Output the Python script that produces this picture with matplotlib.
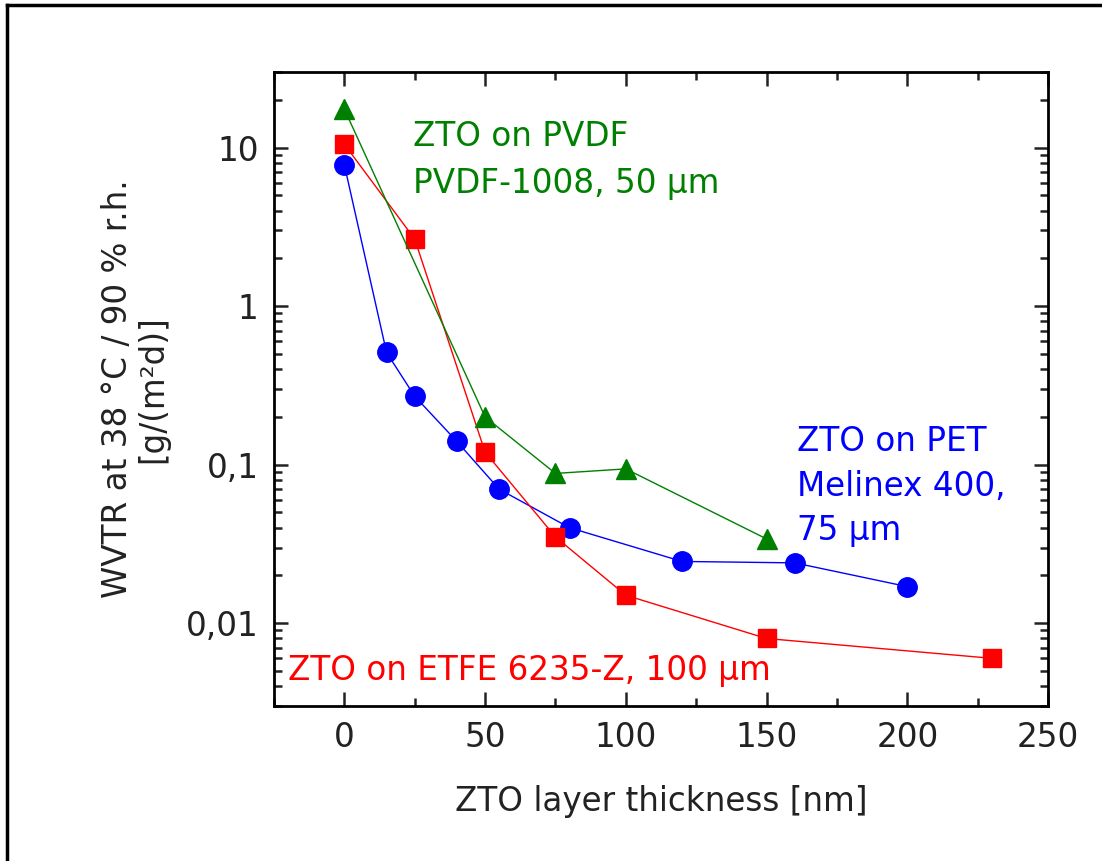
import numpy as np
import matplotlib as mpl
mpl.use('Agg')
import matplotlib.pyplot as plt
from matplotlib.lines import Line2D
from matplotlib.ticker import FixedLocator, LogLocator, NullFormatter

mpl.rcParams['font.family'] = ['DejaVu Sans']

# ZTO on PET (Melinex 400, 75 um)
x_pet = [0, 15, 25, 40, 55, 80, 120, 160, 200]
y_pet = [7.8, 0.51, 0.27, 0.14, 0.07, 0.040, 0.0245, 0.024, 0.017]

# ZTO on ETFE 6235-Z, 100 um
x_etfe = [0, 25, 50, 75, 100, 150, 230]
y_etfe = [10.5, 2.65, 0.12, 0.035, 0.015, 0.008, 0.006]

# ZTO on PVDF (PVDF-1008, 50 um)
x_pvdf = [0, 50, 75, 100, 150]
y_pvdf = [17.5, 0.2, 0.088, 0.094, 0.034]

ytick_vals = [0.01, 0.1, 1, 10]
ytick_labels = ['0,01', '0,1', '1', '10']

FS = 23.5
TXT = '#222222'

fig = plt.figure(figsize=(11.02, 8.61), dpi=100)
ax = fig.add_axes([0.2486, 0.18, 0.7024, 0.7364])

ax.plot(x_pet, y_pet, '-o', color='#0000ff', lw=1.0, ms=14, zorder=3)
ax.plot(x_etfe, y_etfe, '-s', color='#ff0000', lw=1.0, ms=13.5, zorder=3)
ax.plot(x_pvdf, y_pvdf, '-^', color='#008000', lw=1.0, ms=14.5, zorder=3)

ax.set_yscale('log')
ax.set_xlim(-25, 250)
ax.set_ylim(0.003, 30)
ax.set_xticks([0, 50, 100, 150, 200, 250])
ax.xaxis.set_minor_locator(FixedLocator(np.arange(-25, 251, 25)))
ax.set_yticks(ytick_vals)
ax.set_yticklabels(ytick_labels)
ax.yaxis.set_minor_locator(LogLocator(base=10, subs=np.arange(2, 10)))
ax.yaxis.set_minor_formatter(NullFormatter())

for s in ax.spines.values():
    s.set_linewidth(2.0)
ax.tick_params(which='both', direction='in', top=True, right=True, width=1.8, labelsize=FS, colors=TXT)
ax.tick_params(which='major', length=10, pad=11)
ax.tick_params(which='minor', length=6)

ax.set_xlabel('ZTO layer thickness [nm]', fontsize=FS, color=TXT, labelpad=22)
ax.set_ylabel('WVTR at 38 °C / 90 % r.h.\n[g/(m²d)]', fontsize=FS, color=TXT, labelpad=12, linespacing=1.1)

ax.text(24.5, 14.9, 'ZTO on PVDF\nPVDF-1008, 50 µm', color='#008000', fontsize=FS,
        ha='left', va='top', linespacing=1.52)
ax.text(161, 0.178, 'ZTO on PET\nMelinex 400,\n75 µm', color='#0000ff', fontsize=FS,
        ha='left', va='top', linespacing=1.45)
ax.text(-20, 0.0050, 'ZTO on ETFE 6235-Z, 100 µm', color='#ff0000', fontsize=FS,
        ha='left', va='center')

# frame around the figure (left and top edges visible)
fig.add_artist(Line2D([7 / 1102, 7 / 1102], [0, 1 - 5 / 861], transform=fig.transFigure, color='black', lw=2.5))
fig.add_artist(Line2D([7 / 1102, 1], [1 - 5 / 861, 1 - 5 / 861], transform=fig.transFigure, color='black', lw=2.5))

fig.savefig('out.png', dpi=100)
